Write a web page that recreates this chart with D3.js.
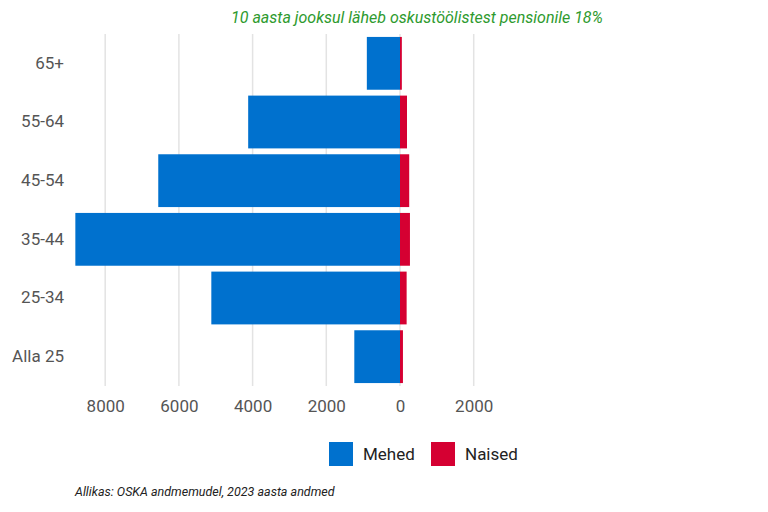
<!DOCTYPE html>
<html><head><meta charset="utf-8">
<script src="https://cdn.jsdelivr.net/npm/d3@7"></script>
<style>body{margin:0;background:#fff;font-family:Roboto,"Liberation Sans",sans-serif}</style>
</head><body><svg id="c" width="768" height="512"></svg>
<script>
const groups = ['65+','55-64','45-54','35-44','25-34','Alla 25'];
const mehed = [900, 4120, 6560, 8810, 5120, 1240];
const naised = [50, 190, 250, 270, 180, 80];
const ticks = [-8000,-6000,-4000,-2000,0,2000];

const svg = d3.select('#c');
const x = d3.scaleLinear().domain([-8955, 2985]).range([70, 510]);
const y = d3.scaleBand().domain(groups).range([34, 386]).paddingInner(0.1).paddingOuter(0.05);

svg.append('g').selectAll('line').data(ticks).join('line')
  .attr('x1', d => x(d)).attr('x2', d => x(d)).attr('y1', 34).attr('y2', 386)
  .attr('stroke', '#e3e3e3').attr('stroke-width', 1.5);

svg.append('g').selectAll('rect').data(groups).join('rect')
  .attr('x', (d,i) => x(-mehed[i])).attr('width', (d,i) => x(0) - x(-mehed[i]))
  .attr('y', d => y(d)).attr('height', y.bandwidth()).attr('fill', '#0071CE');
svg.append('g').selectAll('rect').data(groups).join('rect')
  .attr('x', x(0)).attr('width', (d,i) => x(naised[i]) - x(0))
  .attr('y', d => y(d)).attr('height', y.bandwidth()).attr('fill', '#D50032');

const xa = svg.append('g').attr('transform', 'translate(0,386)')
  .call(d3.axisBottom(x).tickValues(ticks).tickFormat(d => Math.abs(d)).tickSize(0).tickPadding(14));
const ya = svg.append('g').attr('transform', 'translate(70,0)')
  .call(d3.axisLeft(y).tickSize(0).tickPadding(6));
[xa, ya].forEach(a => {
  a.select('.domain').remove();
  a.selectAll('text').attr('font-size', 17).attr('fill', '#555').attr('font-family', 'Roboto,sans-serif');
});

svg.append('text').attr('x', 417).attr('y', 23).attr('text-anchor', 'middle')
  .attr('font-size', 16).attr('font-style', 'italic').attr('fill', '#2E9A2E')
  .text('10 aasta jooksul läheb oskustöölistest pensionile 18%');

const leg = [['Mehed', '#0071CE', 329], ['Naised', '#D50032', 431]];
leg.forEach(([t, c, lx]) => {
  svg.append('rect').attr('x', lx).attr('y', 442).attr('width', 24).attr('height', 24).attr('fill', c);
  svg.append('text').attr('x', lx + 34).attr('y', 460).attr('font-size', 17).attr('fill', '#222').text(t);
});

svg.append('text').attr('x', 75).attr('y', 496).attr('font-size', 12.5).attr('font-style', 'italic')
  .attr('fill', '#222').text('Allikas: OSKA andmemudel, 2023 aasta andmed');
</script></body></html>
